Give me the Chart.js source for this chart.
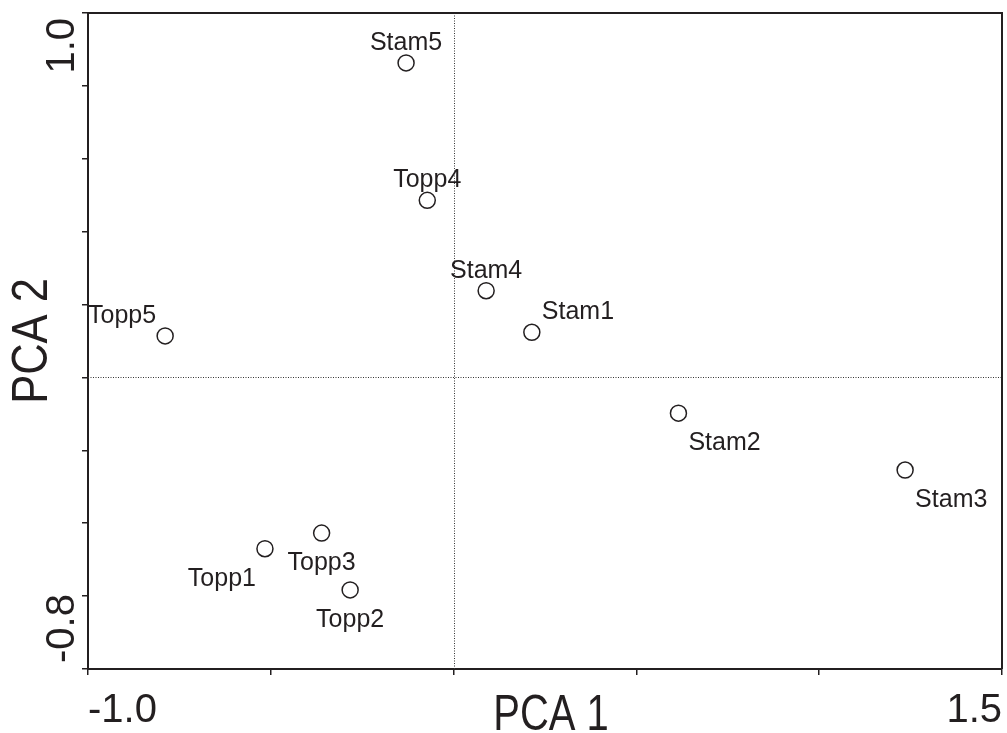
<!DOCTYPE html>
<html>
<head>
<meta charset="utf-8">
<title>PCA</title>
<script src="https://cdn.jsdelivr.net/npm/chart.js@4.4.1/dist/chart.umd.min.js"></script>
<style>
  html, body { margin:0; padding:0; background:#fff; }
</style>
</head>
<body>
<canvas id="pcaChart" width="1007" height="733"></canvas>
<script>
const samples = ["Stam1", "Stam2", "Stam3", "Stam4", "Stam5", "Topp1", "Topp2", "Topp3", "Topp4", "Topp5"];
const pca1 = [0.214, 0.615, 1.235, 0.089, -0.130, -0.516, -0.283, -0.361, -0.072, -0.789];
const pca2 = [0.124, -0.098, -0.254, 0.238, 0.863, -0.470, -0.583, -0.427, 0.486, 0.114];
const xRange = [-1.0, 1.5];
const yRange = [-0.8, 1.0];
const xTitle = "PCA 1";
const yTitle = "PCA 2";
// which side of its circle each name sits on
const labelSide = ["ne", "se", "se", "n", "n", "sw", "s", "s", "n", "nw"];

const INK = "#231f20";
const SANS = "'Liberation Sans', Arial, Helvetica, sans-serif";

const pointLabels = {
  id: "pointLabels",
  afterDatasetsDraw(chart){
    const ctx = chart.ctx;
    const pts = chart.getDatasetMeta(0).data;
    ctx.save();
    ctx.font = "25px " + SANS;
    ctx.fillStyle = INK;
    ctx.textBaseline = "alphabetic";
    pts.forEach((p, i) => {
      const side = labelSide[i];
      let dx = 0;
      const dy = side.startsWith("s") ? 37 : -13;
      ctx.textAlign = "center";
      if (side.endsWith("e")) { ctx.textAlign = "left"; dx = 10; }
      if (side.endsWith("w")) { ctx.textAlign = "right"; dx = -9; }
      ctx.fillText(samples[i], p.x + dx, p.y + dy);
    });
    ctx.restore();
  }
};

const frame = {
  id: "frame",
  beforeDatasetsDraw(chart){
    const { ctx, chartArea: a, scales: { x, y } } = chart;
    ctx.save();
    // dotted zero lines
    ctx.strokeStyle = "#333";
    ctx.lineWidth = 1;
    ctx.setLineDash([1, 1.5]);
    const x0 = Math.round(x.getPixelForValue(0)) + 0.5;
    const y0 = Math.round(y.getPixelForValue(0)) + 0.5;
    ctx.beginPath();
    ctx.moveTo(x0, a.top); ctx.lineTo(x0, a.bottom);
    ctx.moveTo(a.left, y0); ctx.lineTo(a.right, y0);
    ctx.stroke();
    // close the box on top and right
    ctx.setLineDash([]);
    ctx.strokeStyle = INK;
    ctx.lineWidth = 2;
    ctx.beginPath();
    ctx.moveTo(a.left, a.top); ctx.lineTo(a.right, a.top); ctx.lineTo(a.right, a.bottom);
    ctx.stroke();
    // y end labels, reading upward, tucked inside the axis ends
    ctx.font = "40px " + SANS;
    ctx.fillStyle = INK;
    ctx.textBaseline = "alphabetic";
    const bx = a.left - 14;
    ctx.save();
    ctx.translate(bx, a.top + 5);
    ctx.rotate(-Math.PI / 2);
    ctx.textAlign = "right";
    ctx.fillText(y.max.toFixed(1), 0, 0);
    ctx.restore();
    ctx.save();
    ctx.translate(bx, a.bottom - 6);
    ctx.rotate(-Math.PI / 2);
    ctx.textAlign = "left";
    ctx.fillText(y.min.toFixed(1), 0, 0);
    ctx.restore();

    // axis titles; the original face is narrower than Liberation, so squeeze a bit
    ctx.font = "50px " + SANS;
    ctx.textAlign = "center";
    ctx.save();
    ctx.translate((a.left + a.right) / 2 + 6, chart.height - 3);
    ctx.scale(0.8, 1);
    ctx.fillText(xTitle, 0, 0);
    ctx.restore();
    ctx.save();
    ctx.translate(47, (a.top + a.bottom) / 2);
    ctx.rotate(-Math.PI / 2);
    ctx.scale(0.87, 1);
    ctx.fillText(yTitle, 0, 0);
    ctx.restore();
    ctx.restore();
  }
};

new Chart(document.getElementById("pcaChart"), {
  type: "scatter",
  data: {
    datasets: [{
      data: pca1.map((v, i) => ({ x: v, y: pca2[i] })),
      pointRadius: 8,
      pointHoverRadius: 8,
      pointBorderWidth: 1.5,
      pointBackgroundColor: "#fff",
      pointBorderColor: INK
    }]
  },
  options: {
    responsive: false,
    animation: false,
    layout: { autoPadding: false, padding: { top: 13, right: 5, left: 0, bottom: 0 } },
    plugins: { legend: { display: false }, tooltip: { enabled: false } },
    scales: {
      x: {
        type: "linear",
        min: xRange[0], max: xRange[1],
        afterFit: (s) => { s.height = 64; s.paddingLeft = 0; s.paddingRight = 0; },
        border: { display: true, color: INK, width: 2 },
        grid: { drawOnChartArea: false, drawTicks: true, tickLength: 6, color: INK, lineWidth: 1.5 },
        ticks: {
          stepSize: 0.5, autoSkip: false, maxRotation: 0, align: "inner", padding: 12,
          color: INK, font: { family: SANS, size: 40 },
          callback: (v) => (v === xRange[0] || v === xRange[1]) ? v.toFixed(1) : ""
        }
      },
      y: {
        type: "linear",
        min: yRange[0], max: yRange[1],
        afterFit: (s) => { s.width = 88; s.paddingTop = 0; s.paddingBottom = 0; },
        border: { display: true, color: INK, width: 2 },
        grid: { drawOnChartArea: false, drawTicks: true, tickLength: 6, color: INK, lineWidth: 1.5 },
        ticks: { stepSize: 0.2, display: false }
      }
    }
  },
  plugins: [frame, pointLabels]
});
</script>
</body>
</html>
